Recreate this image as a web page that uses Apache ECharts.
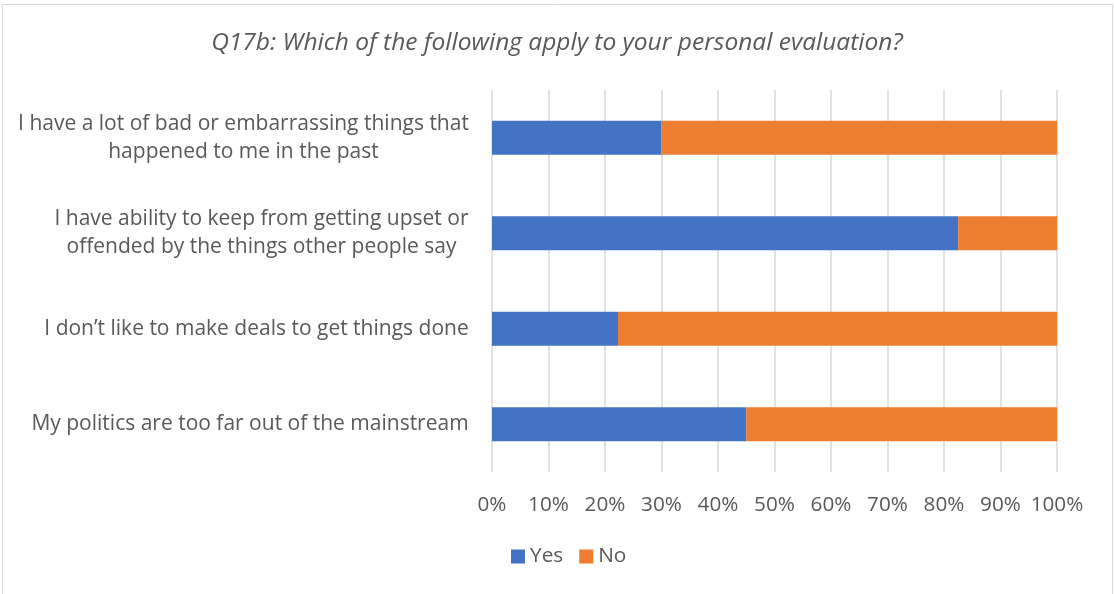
<!DOCTYPE html>
<html><head><meta charset="utf-8">
<script src="https://cdn.jsdelivr.net/npm/echarts@6/dist/echarts.min.js"></script>
<style>html,body{margin:0;padding:0;background:#fff}#c{width:1114px;height:594px}</style>
</head><body><div id="c"></div>
<script>
const titleText = 'Q17b: Which of the following apply to your personal evaluation?';
const categories = [
  'I have a lot of bad or embarrassing things that\nhappened to me in the past',
  'I have ability to keep from getting upset or\noffended by the things other people say',
  'I don\u2019t like to make deals to get things done',
  'My politics are too far out of the mainstream'
];
const yesValues = [30, 82.5, 22.3, 45];
const noValues = [70, 17.5, 77.7, 55];
const seriesNames = ['Yes', 'No'];

const FONT = 'Open Sans';
const LABEL_SIZE = 21;
const cv = document.createElement('canvas').getContext('2d');
cv.font = LABEL_SIZE + 'px "' + FONT + '"';
const rich = {};
categories.forEach((c, i) => {
  const w = Math.max(...c.split('\n').map(s => cv.measureText(s).width));
  rich['c' + i] = {width: Math.ceil(w), align: 'center', fontSize: LABEL_SIZE, fontFamily: FONT, color: '#595959', lineHeight: 28};
});

const chart = echarts.init(document.getElementById('c'));
chart.setOption({
  animation: false,
  textStyle: {fontFamily: FONT},
  title: {
    text: titleText, left: 'center', top: 26,
    textStyle: {fontFamily: FONT, fontStyle: 'italic', fontWeight: 'normal', fontSize: 24.5, color: '#595959'}
  },
  graphic: [{type: 'rect', shape: {x: 2.5, y: 4.5, width: 1110, height: 620}, style: {fill: 'none', stroke: '#d9d9d9', lineWidth: 1}, silent: true}],
  legend: {
    data: seriesNames, bottom: 22, left: 506, itemWidth: 14, itemHeight: 14, itemGap: 16, icon: 'rect',
    textStyle: {fontSize: 20.8, color: '#595959', fontFamily: FONT}
  },
  grid: {left: 492, right: 57, top: 90, bottom: 122},
  xAxis: {
    type: 'value', min: 0, max: 100, interval: 10,
    axisLine: {show: false}, axisTick: {show: false},
    splitLine: {show: true, lineStyle: {color: '#d9d9d9', width: 1.5}},
    axisLabel: {formatter: '{value}%', fontSize: 20.7, color: '#595959', fontFamily: FONT, margin: 23}
  },
  yAxis: {
    type: 'category', inverse: true, data: categories,
    axisLine: {show: false}, axisTick: {show: false},
    axisLabel: {
      margin: 23,
      formatter: (v, i) => v.split('\n').map(s => '{c' + i + '|' + s + '}').join('\n'),
      rich: rich
    }
  },
  series: [
    {name: seriesNames[0], type: 'bar', stack: 'a', data: yesValues, barWidth: 34, itemStyle: {color: '#4472C4'}},
    {name: seriesNames[1], type: 'bar', stack: 'a', data: noValues, barWidth: 34, itemStyle: {color: '#ED7D31'}}
  ]
});
</script></body></html>
